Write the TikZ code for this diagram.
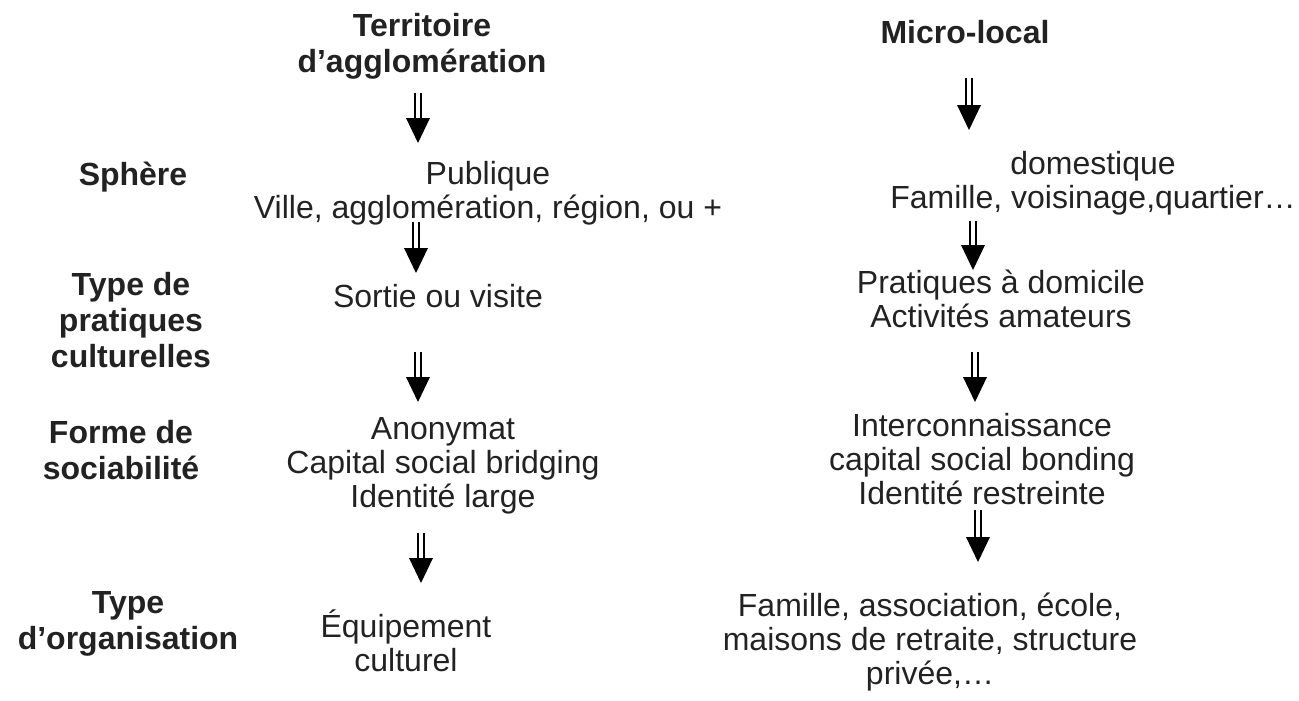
\documentclass[tikz,border=0pt]{standalone}
\usepackage{fontspec}
\setmainfont{Liberation Sans}
\definecolor{inktext}{HTML}{222222}
% double-shafted arrow with a filled head: #1 = start, #2 = tip
\newcommand{\flowarrow}[2]{%
  \draw[shaftline] ([xshift=-2.7pt]#1) -- ([xshift=-2.7pt,yshift=24pt]#2);
  \draw[shaftline] ([xshift=2.7pt]#1) -- ([xshift=2.7pt,yshift=24pt]#2);
  \fill[headfill] (#2) -- ([xshift=-12pt,yshift=25pt]#2) -- ([xshift=12pt,yshift=25pt]#2) -- cycle;
}
\begin{document}
\begin{tikzpicture}[x=1pt, y=-1pt]
\tikzset{
  rowlabel/.style={font=\fontsize{32}{36}\selectfont\bfseries, align=center, text=inktext, inner sep=0pt},
  celltext/.style={font=\fontsize{32}{34}\selectfont, align=center, text=inktext, inner sep=0pt},
  shaftline/.style={line width=2.2pt, draw=black},
  headfill/.style={fill=black},
}
\useasboundingbox (0,0) rectangle (1299,701);
% Column headers
\node[rowlabel] (terr) at (422,46) {Territoire\\d’agglomération};
\node[rowlabel] (micro) at (965,32) {Micro-local};
% Row labels
\node[rowlabel] (sphere) at (133,177) {Sphère};
\node[rowlabel] (typeprat) at (131,320) {Type de\\pratiques\\culturelles};
\node[rowlabel] (forme) at (121,450) {Forme de\\sociabilité};
\node[rowlabel] (typeorg) at (128,624) {Type\\d’organisation};
% Left column: agglomeration
\node[celltext] (aggpub) at (488,193) {Publique\\Ville, agglomération, région, ou +};
\node[celltext] (aggsortie) at (438,296) {Sortie ou visite};
\node[celltext] (aggsocial) at (443,466) {Anonymat\\Capital social bridging\\Identité large};
\node[celltext] (aggequip) at (406,641) {Équipement\\culturel};
% Right column: micro-local
\node[celltext] (micdom) at (1093,183) {domestique\\Famille, voisinage,quartier…};
\node[celltext] (micprat) at (1001,299) {Pratiques à domicile\\Activités amateurs};
\node[celltext] (micsocial) at (982,459) {Interconnaissance\\capital social bonding\\Identité restreinte};
\node[celltext] (micorg) at (930,642) {Famille, association, école,\\maisons de retraite, structure\\privée,…};
% Arrow end points
\coordinate (agg1top) at (418,93);  \coordinate (agg1tip) at (418,143);
\coordinate (agg2top) at (416,222); \coordinate (agg2tip) at (416,273);
\coordinate (agg3top) at (418,352); \coordinate (agg3tip) at (418,402);
\coordinate (agg4top) at (421,533); \coordinate (agg4tip) at (421,583);
\coordinate (mic1top) at (969,78);  \coordinate (mic1tip) at (969,130);
\coordinate (mic2top) at (973,221); \coordinate (mic2tip) at (973,270);
\coordinate (mic3top) at (975,352); \coordinate (mic3tip) at (975,402);
\coordinate (mic4top) at (978,510); \coordinate (mic4tip) at (978,562);
% Arrows
\foreach \col in {agg,mic}{
  \foreach \i in {1,...,4}{
    \flowarrow{\col\i top}{\col\i tip}
  }
}
\end{tikzpicture}
\end{document}
